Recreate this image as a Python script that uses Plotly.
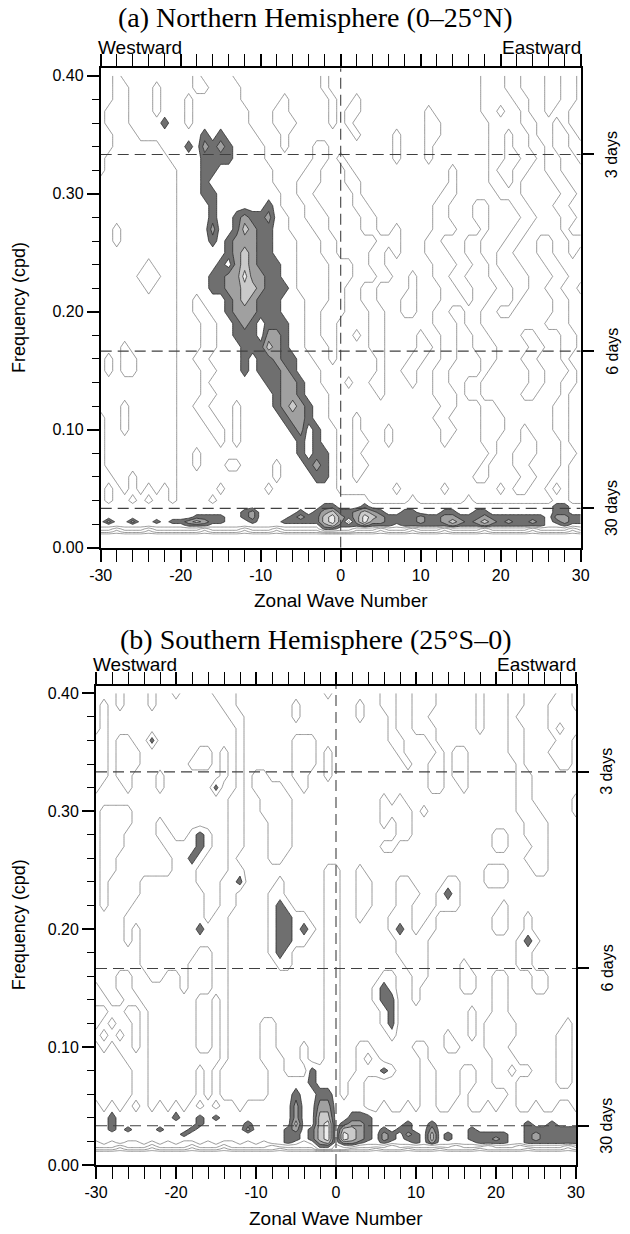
import plotly.graph_objects as go

# ---------------- data ----------------
WAVENUMBER = list(range(-30, 31))
# frequency rows (cpd), top to bottom
FREQ = [0.40, 0.39, 0.38, 0.37, 0.36, 0.35, 0.34, 0.33, 0.32, 0.31, 0.30, 0.29,
        0.28, 0.27, 0.26, 0.25, 0.24, 0.23, 0.22, 0.21, 0.20, 0.19, 0.18, 0.17,
        0.16, 0.15, 0.14, 0.13, 0.12, 0.11, 0.10, 0.09, 0.08, 0.07, 0.06, 0.05,
        0.040, 0.035, 0.030, 0.026, 0.022, 0.019, 0.016, 0.0135, 0.011]

# spectral power level codes (0..9); columns k=-30..-21 | -20..-11 | -10..-1 | 0 | 1..10 | 11..20 | 21..30
NH_ROWS = [
    "5545555555 5545555444 4444444454 4 4444444444 4444444555 4455544554",
    "5544555455 5544555544 4444444454 4 4444444444 4444444555 4455544554",
    "5544555455 5455555544 4445444445 4 4544444444 4444444555 5445544554",
    "5444555455 5455555554 4455444445 4 5544444444 5444444554 5545545544",
    "5444555565 5455555554 4455544445 4 5444444444 5544444455 5544554544",
    "5544455555 5556565555 4445444444 4 4544445444 5544444455 4554554454",
    "5544444455 5657676555 5445444554 4 4444445444 5444444455 4554454455",
    "5444444445 5556666555 5444444554 5 4444445444 5444444455 4455455445",
    "5444444444 5556655555 5544445544 4 5444444444 4445444454 4554455444",
    "4444444444 5556555555 5544455544 4 5544444444 4445444455 4544445544",
    "4444444444 5556655555 5554455444 4 4544444444 4455444445 5544444554",
    "4444444444 5555655555 5654445544 4 4554444444 4554445544 4554445544",
    "4444444444 5555655676 6755445554 4 4455444444 4554445544 4455444554",
    "4454444444 5555755687 6655444554 4 4455445444 4555444544 4554444544",
    "4454444444 5555656777 6655544455 4 4444555444 5544455444 5544554455",
    "4444444444 5555556787 6655544455 4 4445545444 5554455445 5444554454",
    "4444445444 5555565787 6665544445 5 5445544444 4555445545 5544455444",
    "4444455544 5555667797 7665544445 5 5444554454 4554455544 5554445544",
    "4444445444 5555667788 7666544445 5 4455444454 4455445554 4554455445",
    "4444444444 5545556787 6665554445 5 4455444554 4455545544 4544445544",
    "4444444444 5544556777 6665554455 5 4445544554 4554455445 5444445544",
    "4444444444 5554455676 5666554455 4 4445544444 4555455444 4444455544",
    "4444444444 5554455666 5776554455 4 4545544445 4455445544 4455444554",
    "4445444444 5554455566 6876554445 4 4445544445 5455445554 4445544554",
    "4545544444 5544555565 6676655445 4 4444544455 4455444554 4455444544",
    "4545544444 5554455565 6667655544 4 4444544554 4554444544 4445544454",
    "4444444444 5554555555 5667765544 4 5445544454 4554455444 4445544554",
    "4444444444 5554455555 5567765554 4 4444544444 4555455444 4455444544",
    "4445444444 5544555455 5567876554 4 4444444444 4455444554 4444445544",
    "5445444444 5554455455 5556776554 4 4544444444 4554444555 4444445544",
    "5445444444 5555445455 5555675655 4 4544454444 4455444555 4454445544",
    "5444444444 5555545455 5555565655 4 4554454444 4454444554 4455444544",
    "5444444444 5545555555 5555565665 4 4544444444 4444444454 4555444554",
    "5444444444 5545554455 5545556765 4 4554444444 4444444544 4554444544",
    "5544544444 5555555555 5545555665 4 4544444444 4444445544 4455445544",
    "5454545454 5555545555 5455555555 4 4444445444 4454444445 4554454544",
    "5455454554 5555455555 5555555555 5 5554444454 4444454444 4444445544",
    "5555555555 5555555555 5555555566 5 5565555555 5555555555 5555556655",
    "5555555555 5555555567 5555565678 6 6787655665 5566556655 5555556655",
    "5555555555 5566665567 5555676689 7 6798766667 6677666766 6666657766",
    "5755755656 6787665556 5556666689 7 4797766667 6678767876 7667656766",
    "5555555555 5666555555 5555555578 6 6676665666 6667666766 6666655655",
    "4434443444 4443444434 4434444466 5 5444344434 4434444344 4443444434",
    "3323332333 3332333323 3323333344 4 4333233323 3323333233 3332333323",
    "1111111111 1111111111 1111111111 1 1111111111 1111111111 1111111111",
]

SH_ROWS = [
    "4445444544 5444455544 4444444445 4 4444455445 5544444544 4554444554",
    "4545444544 4444445544 4444454444 4 4454455445 5544444544 4554445554",
    "4544444444 4444444554 4444454444 4 4454445445 5444444544 4544445555",
    "4544444444 4444444454 4444444444 4 4444445445 5544444544 4554445455",
    "5545544644 4444444454 4444455544 4 4444445544 4544444444 4554444554",
    "5545554444 4445545454 4444455545 4 4444444544 4454554444 4554445554",
    "5545554444 4455545454 4444455545 4 4444444454 4554554444 4454444554",
    "5545544454 4444445454 5544455445 4 4444444444 4554554444 4455444444",
    "5444544454 4444464454 5555445444 4 4444444444 4554454444 4455444444",
    "4444444444 4444444554 4555544444 4 4444454544 4444444444 4455444445",
    "4555544444 4444444554 4555544444 4 4444455554 5444444444 4455544445",
    "4555544454 4444444554 4455544444 4 4444454554 4444444444 4445554444",
    "4555444455 4456544554 4455544444 4 4444444554 4444444445 5445554444",
    "4555444445 5556544554 4455544444 4 4444455444 4444444445 5444554444",
    "4554444444 5565444544 4455444444 4 4444444444 4444444444 4445554444",
    "4554444444 5554444554 4444444445 5 4454444444 4444444455 5444554444",
    "4544445555 5554445564 4445444445 5 4455444554 4445544455 5444444444",
    "4544445555 5555445544 4455444445 5 4455444555 4456544444 4444444444",
    "4544455555 5555445544 4456544445 5 4455444554 4455544444 5444444444",
    "4444555555 5555455444 4456655445 5 4454445554 4544444445 5445444444",
    "4444545555 5556555444 4456656545 5 4444445654 5544444445 5445444444",
    "4444545555 5555555444 4456655445 5 4444444555 5444444444 4456544444",
    "4444445555 5554455444 4456544445 5 4444444555 5444444444 4455444444",
    "4444445555 5544455444 4445544445 5 4444444455 5444454444 4455444444",
    "4445544554 4544455444 4444444445 5 4444455445 5444455445 5444554444",
    "5445544444 4544455444 4444444445 5 4444565445 4444455445 5444554444",
    "5544554444 4445545444 4444444445 5 4444566445 4444444445 5444444444",
    "4455445444 4445545444 4444444445 5 4444456444 4444445445 5444444444",
    "4545545444 4445545444 4554444445 5 4444456444 4444445455 5544444454",
    "5454545444 4445545444 4554444445 5 4444445444 4445445455 5544444554",
    "4545545444 4445545444 4554445445 5 4455444445 5445544455 5444444554",
    "4444555444 4444445444 4555445445 5 4454544444 5444444445 5544444554",
    "4444455444 4445454444 4455444655 5 4455565444 5544455445 5455444554",
    "4444455444 4445454444 4455555655 5 4554444444 5544455445 5544444554",
    "4444455444 4445454444 4455565566 5 4554444444 5544454444 4544444444",
    "5454545454 5454545545 5555575577 5 5554454454 5544554454 5544544554",
    "5565555555 6556565555 5555575588 5 5666555555 5555555555 5555555555",
    "5565555555 5556555556 5555585589 5 6776555565 5655555555 5556556555",
    "5565655565 5565555557 5555675689 5 8876565665 5755556555 5556666666",
    "5555555555 5655555555 5555665689 5 9876576576 5856556666 6556766666",
    "5555555555 5555555555 5555665689 5 9876576566 5856556667 6556766666",
    "4545445454 5445454454 5455654578 5 7765565556 5755555666 6556666666",
    "4443444344 4434443444 4434444466 4 5544443444 4444344434 4434444434",
    "3332333233 3323332333 3332333355 4 4333233323 3323333233 3332333323",
    "1111111111 1111111111 1111111111 1 1111111111 1111111111 1111111111",
]

X_TICKS = [-30, -20, -10, 0, 10, 20, 30]
X_TICK_TEXT = ["-30", "-20", "-10", "0", "10", "20", "30"]
Y_TICKS = [0.0, 0.1, 0.2, 0.3, 0.4]
Y_TICK_TEXT = ["0.00", "0.10", "0.20", "0.30", "0.40"]
PERIOD_DAYS = [3, 6, 30]
PERIOD_TEXT = ["3 days", "6 days", "30 days"]
TITLES = ["(a) Northern Hemisphere (0\u201325\u00b0N)", "(b) Southern Hemisphere (25\u00b0S\u20130)"]

# ---------------- styling ----------------
W, H = 630, 1234
SANS = "Liberation Sans"
SERIF = "Liberation Serif"
YMAX = 0.4064
TRANSP = "rgba(255,255,255,0)"
DARK, MID, LIGHT, PALE = "#6f6f6f", "#a0a0a0", "#cacaca", "#ededed"
FILL_SCALE = [[0.0, TRANSP], [0.125, TRANSP], [0.125, DARK], [0.375, DARK],
              [0.375, MID], [0.625, MID], [0.625, LIGHT], [0.875, LIGHT],
              [0.875, PALE], [1.0, PALE]]


def grid(rows):
    z = []
    for i, r in enumerate(rows):
        s = r.replace(" ", "")
        if len(s) != len(WAVENUMBER):
            raise ValueError(f"row {i} has {len(s)} values")
        z.append([int(c) for c in s])
    if len(z) != len(FREQ):
        raise ValueError("row count mismatch")
    return z[::-1]


fig = go.Figure()

# panel geometry in pixels: left, right, top, bottom, title centre
PANELS = [
    dict(rows=NH_ROWS, l=100.7, r=580.7, t=68.3, b=547.7, ty=17,
         xa="x", ya="y", yr="y3"),
    dict(rows=SH_ROWS, l=96.0, r=576.0, t=685.7, b=1165.0, ty=639,
         xa="x2", ya="y2", yr="y4"),
]

freq_asc = FREQ[::-1]
shapes = []
annotations = []

for pi, p in enumerate(PANELS):
    z = grid(p["rows"])
    # unshaded thin contours
    fig.add_trace(go.Contour(
        x=WAVENUMBER, y=freq_asc, z=z, xaxis=p["xa"], yaxis=p["ya"],
        contours=dict(start=0.5, end=4.5, size=1, coloring="lines", showlabels=False),
        line=dict(width=0.7, smoothing=0),
        colorscale=[[0, "#6e6e6e"], [1, "#6e6e6e"]],
        showscale=False, hoverinfo="skip"))
    # shaded significant levels
    fig.add_trace(go.Contour(
        x=WAVENUMBER, y=freq_asc, z=z, xaxis=p["xa"], yaxis=p["ya"],
        contours=dict(start=5.5, end=8.5, size=1, coloring="fill", showlabels=False),
        zauto=False, zmin=5, zmax=9, colorscale=FILL_SCALE,
        line=dict(color="#2b2b2b", width=0.8, smoothing=0),
        showscale=False, hoverinfo="skip"))
    # invisible trace so the right-hand period axis is drawn
    fig.add_trace(go.Scatter(x=[0], y=[1.0], xaxis=p["xa"], yaxis=p["yr"],
                             mode="markers", marker=dict(opacity=0),
                             hoverinfo="skip", showlegend=False))

    xd = [p["l"] / W, p["r"] / W]
    yd = [1 - p["b"] / H, 1 - p["t"] / H]
    xkey = "xaxis" if p["xa"] == "x" else "xaxis2"
    ykey = "yaxis" if p["ya"] == "y" else "yaxis2"
    yrkey = "yaxis3" if p["yr"] == "y3" else "yaxis4"
    fig.update_layout(**{
        xkey: dict(domain=xd, anchor=p["ya"], range=[-30, 30], tickvals=X_TICKS,
                   ticktext=X_TICK_TEXT, automargin=False,
                   ticks="outside", ticklen=12, tickwidth=1.5, tickcolor="black",
                   showline=True, linecolor="black", linewidth=1.8, mirror="allticks",
                   minor=dict(dtick=2, tick0=0, ticks="outside", ticklen=7,
                              tickwidth=1.2, tickcolor="black"),
                   tickfont=dict(family=SANS, size=16, color="black"),
                   showgrid=False, zeroline=False),
        ykey: dict(domain=yd, anchor=p["xa"], range=[0, YMAX], tickvals=Y_TICKS,
                   ticktext=Y_TICK_TEXT, automargin=False,
                   ticks="outside", ticklen=12, tickwidth=1.5,
                   tickcolor="black", showline=True, linecolor="black", linewidth=1.8,
                   mirror=True,
                   minor=dict(dtick=0.02, tick0=0, ticks="outside", ticklen=7,
                              tickwidth=1.2, tickcolor="black"),
                   tickfont=dict(family=SANS, size=16, color="black"),
                   showgrid=False, zeroline=False),
        yrkey: dict(overlaying=p["ya"], side="right", anchor=p["xa"], range=[0, YMAX],
                    tickvals=[1.0 / d for d in PERIOD_DAYS], ticks="outside",
                    ticklen=12, tickwidth=1.5, tickcolor="black", automargin=False,
                    showticklabels=False, showline=False, showgrid=False,
                    zeroline=False),
    })

    dash = dict(color="#404040", width=1.1, dash="11px,6px")
    shapes.append(dict(type="line", xref=p["xa"], yref=p["ya"], x0=0, x1=0,
                       y0=0, y1=YMAX, line=dash, layer="above"))
    for d in PERIOD_DAYS:
        shapes.append(dict(type="line", xref=p["xa"], yref=p["ya"], x0=-30, x1=30,
                           y0=1.0 / d, y1=1.0 / d, line=dash, layer="above"))

    ppu = (p["b"] - p["t"]) / YMAX  # pixels per cpd

    def ann(text, px, py, size, family=SANS, angle=0, xanchor="center"):
        annotations.append(dict(text=text, x=px / W, y=1 - py / H, xref="paper",
                                yref="paper", showarrow=False, textangle=angle,
                                xanchor=xanchor, yanchor="middle", borderpad=0,
                                font=dict(family=family, size=size, color="black")))

    ann(TITLES[pi], 315, p["ty"], 28, family=SERIF)
    ann("Westward", p["l"] - 4, p["t"] - 21, 19, xanchor="left")
    ann("Eastward", p["r"] + 1, p["t"] - 21, 19, xanchor="right")
    ann("Frequency (cpd)", 19, (p["t"] + p["b"]) / 2, 18, angle=-90)
    ann("Zonal Wave Number", (p["l"] + p["r"]) / 2, p["b"] + 53, 19)
    for d, t in zip(PERIOD_DAYS, PERIOD_TEXT):
        ann(t, p["r"] + 31, p["b"] - ppu / d, 16, angle=-90)

fig.update_layout(template="none", width=W, height=H,
                  margin=dict(l=0, r=0, t=0, b=0, autoexpand=False),
                  paper_bgcolor="white", plot_bgcolor="white", showlegend=False,
                  shapes=shapes, annotations=annotations)

fig.write_html("out.html")
